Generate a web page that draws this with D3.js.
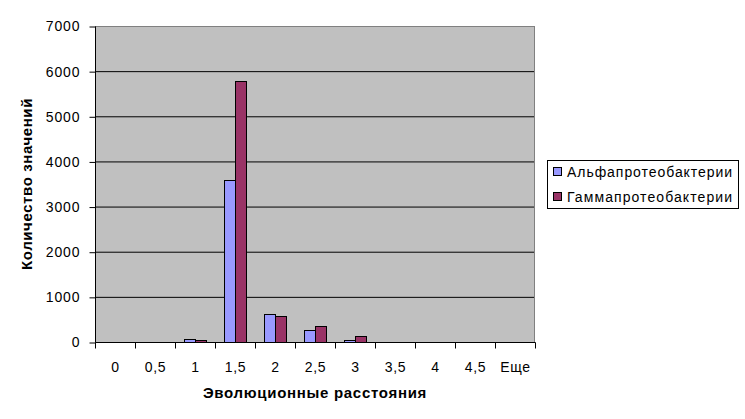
<!DOCTYPE html>
<html><head><meta charset="utf-8">
<script src="https://cdn.jsdelivr.net/npm/d3@7"></script>
<style>body{margin:0;background:#fff}svg{display:block;font-family:"Liberation Sans",Arial,sans-serif}</style>
</head><body><svg id="c" width="745" height="419"></svg>
<script>
const categories = ["0","0,5","1","1,5","2","2,5","3","3,5","4","4,5","Еще"];
const seriesNames = ["Альфапротеобактерии","Гаммапротеобактерии"];
const alpha = [0,0,60,3580,610,260,38,0,0,0,0];
const gamma = [0,0,40,5780,570,350,125,0,0,0,0];
const yTicks = [0,1000,2000,3000,4000,5000,6000,7000];
const colors = ["#9999FF","#993366"];

const svg = d3.select("#c");
const L=95,R=535,T=26,B=342;
const x = d3.scaleBand().domain(categories).range([L,R]).paddingInner(0).paddingOuter(0);
const cw = x.bandwidth();
const bw = cw/3.5, off = cw*0.75/3.5;
const y = d3.scaleLinear().domain([0,7000]).range([B,T]);

svg.append("rect").attr("x",L).attr("y",T).attr("width",R-L).attr("height",B-T).attr("fill","#C0C0C0");
svg.append("g").selectAll("line").data(yTicks.filter(d=>d>0&&d<7000)).join("line")
  .attr("x1",L).attr("x2",R).attr("y1",d=>y(d)+0.5).attr("y2",d=>y(d)+0.5).attr("stroke","#000");
svg.append("rect").attr("x",L+0.5).attr("y",T+0.5).attr("width",R-L-1).attr("height",B-T).attr("fill","none").attr("stroke","#808080");

const data = [alpha,gamma];
data.forEach((arr,si)=>{
  svg.append("g").selectAll("rect").data(arr.map((v,i)=>({v,c:categories[i]})).filter(d=>d.v>0)).join("rect")
    .attr("x",d=>Math.round(x(d.c)+off+si*bw)+0.5)
    .attr("y",d=>Math.round(y(d.v))+0.5)
    .attr("width",Math.round(bw))
    .attr("height",d=>B-Math.round(y(d.v)))
    .attr("fill",colors[si]).attr("stroke","#000");
});

// fit text to a target width by adjusting letter spacing
function fit(sel, target){
  sel.each(function(){
    const n = this.textContent.length;
    this.setAttribute("letter-spacing","0px");
    const w = this.getComputedTextLength();
    this.setAttribute("letter-spacing", ((target-w)/n).toFixed(2)+"px");
  });
}

// y axis
const ya = svg.append("g").attr("transform",`translate(${L+0.5},0.5)`)
  .call(d3.axisLeft(y).tickValues(yTicks).tickSize(6).tickPadding(9).tickFormat(d3.format("d")));
ya.select(".domain").attr("d",`M0,${T}V${B}`).attr("stroke","#000");
ya.selectAll("text").attr("font-size","14px").attr("letter-spacing","0.9px").attr("fill","#000").attr("font-family","Liberation Sans, Arial, sans-serif");
ya.selectAll(".tick line").attr("stroke","#000");

// x axis
const xa = svg.append("g").attr("transform",`translate(0.5,${B+0.5})`);
xa.append("line").attr("x1",L).attr("x2",R).attr("stroke","#000");
const bounds = d3.range(categories.length+1).map(i=>L+i*cw);
xa.selectAll("line.t").data(bounds).join("line").attr("class","t")
  .attr("x1",d=>Math.round(d)).attr("x2",d=>Math.round(d)).attr("y1",0).attr("y2",6).attr("stroke","#000");
xa.selectAll("text").data(categories).join("text")
  .attr("x",d=>x(d)+cw/2).attr("y",29).attr("text-anchor","middle")
  .attr("font-size","14px").attr("letter-spacing","0.6px").text(d=>d);

const xt = svg.append("text").attr("x",(L+R)/2).attr("y",398).attr("text-anchor","middle")
  .attr("font-size","15px").attr("font-weight","bold").text("Эволюционные расстояния");
fit(xt, 224);
const yt = svg.append("text").attr("transform",`translate(32,${(T+B)/2}) rotate(-90)`).attr("text-anchor","middle")
  .attr("font-size","15px").attr("font-weight","bold").text("Количество значений");
fit(yt, 172);

// legend
const lg = svg.append("g");
lg.append("rect").attr("x",547.5).attr("y",160.5).attr("width",191).attr("height",48).attr("fill","#fff").attr("stroke","#000");
seriesNames.forEach((n,i)=>{
  const yy = 172 + i*25;
  lg.append("rect").attr("x",553.5).attr("y",yy-4.5).attr("width",8).attr("height",8).attr("fill",colors[i]).attr("stroke","#000");
  const t = lg.append("text").attr("x",567).attr("y",yy+5).attr("font-size","14px").text(n);
  fit(t, i===0 ? 166 : 166);
});
</script></body></html>
